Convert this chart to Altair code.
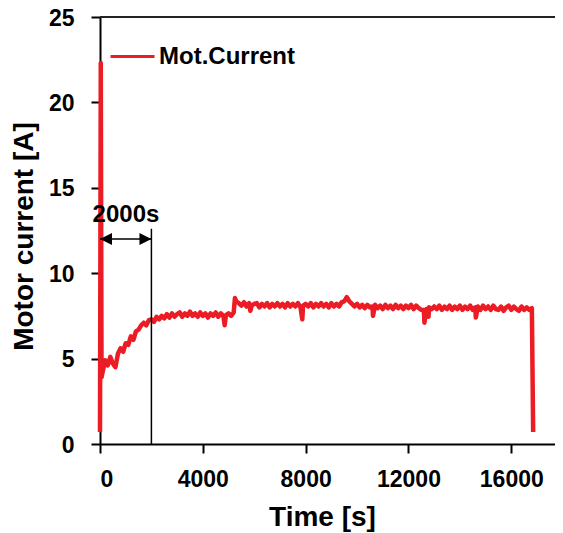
import altair as alt
import pandas as pd

FONT = "Liberation Sans"

# ---- data ----
series_name = "Mot.Current"
spike_time = [0, 30, 60]
spike_current = [0.7, 22.3, 3.9]
sample_time = list(range(100, 16900, 100))
sample_current = [
    4.2, 4.9, 4.6, 5.1, 4.7, 4.5, 5.3, 5.6, 5.4, 5.9,
    5.8, 6.3, 6.1, 6.6, 6.7, 6.95, 7.1, 6.95, 7.25, 7.3,
    7.15, 7.45, 7.3, 7.5, 7.35, 7.6, 7.4, 7.65, 7.45, 7.6,
    7.7, 7.45, 7.65, 7.5, 7.75, 7.5, 7.65, 7.45, 7.7, 7.5,
    7.65, 7.4, 7.65, 7.5, 7.7, 7.45, 7.65, 7.5, 7.55, 7.65,
    7.5, 7.7, 8.35, 8.25, 8.1, 8.3, 8.05, 8.25, 8.1, 8.2,
    8.25, 8.0, 8.2, 8.05, 8.25, 8.0, 8.2, 8.05, 8.25, 8.05,
    8.2, 8.0, 8.25, 8.05, 8.2, 8.05, 8.25, 8.0, 8.1, 8.2,
    8.05, 8.25, 8.0, 8.2, 8.05, 8.25, 8.05, 8.2, 8.0, 8.25,
    8.05, 8.2, 8.05, 8.3, 8.35, 8.6, 8.35, 8.2, 8.05, 8.2,
    8.0, 8.15, 7.95, 8.15, 8.0, 8.05, 8.15, 7.95, 8.1, 7.9,
    8.15, 7.95, 8.1, 7.9, 8.15, 7.95, 8.1, 7.9, 8.1, 7.95,
    8.15, 7.9, 8.1, 7.95, 7.85, 7.85, 7.9, 8.0, 7.9, 8.05,
    7.9, 8.1, 7.85, 8.05, 7.9, 8.1, 7.85, 8.05, 7.9, 8.1,
    7.85, 8.05, 7.9, 8.1, 7.85, 8.0, 8.05, 7.85, 8.1, 7.9,
    8.05, 7.85, 8.1, 7.9, 7.85, 8.05, 7.8, 8.0, 8.1, 7.85,
    8.05, 7.9, 7.8, 8.05, 7.85, 8.0, 7.85, 7.95,
]
# short glitches between the regular samples
glitch_time = [4850, 5250, 5850, 7870, 10620, 12620, 12700, 12780, 14620]
glitch_current = [6.95, 8.55, 7.8, 7.3, 7.5, 7.1, 7.5, 7.45, 7.4]
end_time = [16850]
end_current = [0.7]

x_ticks = [0, 4000, 8000, 12000, 16000]
y_ticks = [0, 5, 10, 15, 20, 25]
x_max = 17700
y_max = 25

marker_time = 2000
marker_top = 12.6
arrow_level = 12.0
label_time = 1010
label_level = 13.0
label_text = "2000s"

times = spike_time + sample_time + glitch_time + end_time
currents = spike_current + sample_current + glitch_current + end_current
df = pd.DataFrame({"t": times, "I": currents, "series": series_name}).sort_values("t")
df["order"] = range(len(df))

xs = alt.Scale(domain=[0, x_max], nice=False, zero=False)
ys = alt.Scale(domain=[0, y_max], nice=False)

x_axis = alt.Axis(
    values=x_ticks, format="d", title="Time [s]", grid=False,
    titleX=222, titleY=81, titleBaseline="alphabetic", titleAnchor="start", titleAlign="center",
    labelPadding=15,
)
y_axis = alt.Axis(
    values=y_ticks, title="Motor current [A]", grid=False,
    titleX=-68, titleY=219, titleAngle=270, titleBaseline="alphabetic", titleAlign="center",
    labelPadding=17, labelBaseline="alphabetic", labelOffset=8,
)

line = alt.Chart(df).mark_line(strokeWidth=4.5, interpolate="linear", strokeJoin="round").encode(
    x=alt.X("t:Q", scale=xs, axis=x_axis),
    y=alt.Y("I:Q", scale=ys, axis=y_axis),
    order="order:Q",
    color=alt.Color(
        "series:N",
        scale=alt.Scale(domain=[series_name], range=["#EC1C24"]),
        legend=alt.Legend(
            title=None, orient="none", legendX=9, legendY=16,
            symbolType="stroke", symbolSize=1936, symbolStrokeWidth=3,
            labelFont=FONT, labelFontSize=24, labelFontWeight="bold",
            labelColor="black", labelOffset=3, padding=0,
        ),
    ),
)

top_df = pd.DataFrame({"x": [0], "x2": [x_max], "y": [y_max]})
top_border = alt.Chart(top_df).mark_rule(color="#222222", strokeWidth=2).encode(
    x="x:Q", x2="x2:Q", y="y:Q"
)

vline_df = pd.DataFrame({"x": [marker_time], "y": [0], "y2": [marker_top]})
vline = alt.Chart(vline_df).mark_rule(color="black", strokeWidth=1.5).encode(
    x="x:Q", y="y:Q", y2="y2:Q"
)

arrow_df = pd.DataFrame({"x": [0], "x2": [marker_time], "y": [arrow_level]})
arrow_line = alt.Chart(arrow_df).mark_rule(color="black", strokeWidth=1.5).encode(
    x="x:Q", x2="x2:Q", y="y:Q"
)
head_l = alt.Chart(pd.DataFrame({"x": [0], "y": [arrow_level]})).mark_point(
    shape="M0,0L2,-1L2,1Z", size=144, filled=True, color="black", opacity=1
).encode(x="x:Q", y="y:Q")
head_r = alt.Chart(pd.DataFrame({"x": [marker_time], "y": [arrow_level]})).mark_point(
    shape="M0,0L-2,-1L-2,1Z", size=144, filled=True, color="black", opacity=1
).encode(x="x:Q", y="y:Q")

label = alt.Chart(pd.DataFrame({"x": [label_time], "y": [label_level], "s": [label_text]})).mark_text(
    font=FONT, fontSize=24, fontWeight="bold", color="black", baseline="alphabetic", align="center"
).encode(x="x:Q", y="y:Q", text="s:N")

chart = alt.layer(top_border, line, vline, arrow_line, head_l, head_r, label).properties(
    width=455, height=427,
    autosize=alt.AutoSizeParams(type="none"),
    padding={"left": 92, "top": 9, "right": 0, "bottom": 88},
).configure_view(stroke=None).configure_axis(
    labelFont=FONT, labelFontSize=23, labelFontWeight="bold", labelColor="black",
    titleFont=FONT, titleFontSize=28, titleFontWeight="bold", titleColor="black",
    domainColor="black", domainWidth=2, tickColor="black", tickWidth=2, tickSize=9,
)

chart.save("out.html", embed_options={"renderer": "svg", "actions": False})
